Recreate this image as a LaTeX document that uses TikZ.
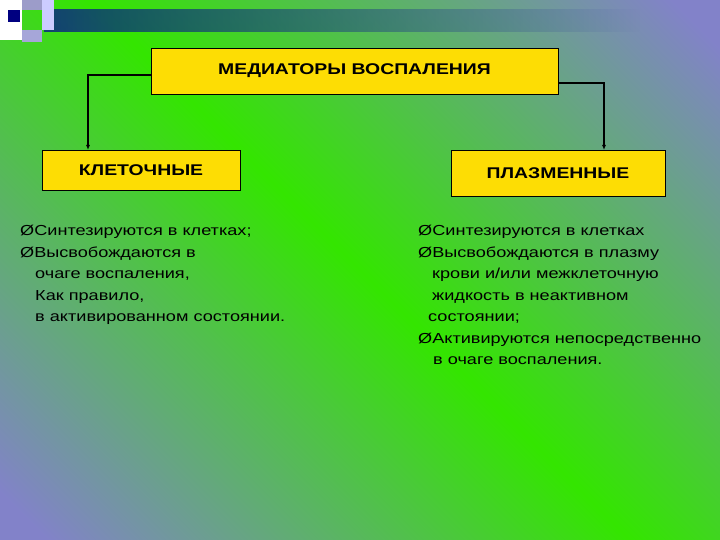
\documentclass[tikz,border=0pt]{standalone}
\usepackage{fontspec}
\setmainfont{Liberation Sans}
\newfontfamily\widefont[FakeStretch=1.25]{Liberation Sans}
\usetikzlibrary{arrows.meta,fadings}
\begin{document}
\begin{tikzpicture}[x=1pt,y=-1pt,
  box/.style={draw=black,fill=yellow!80!orange,line width=0.6pt,inner sep=0pt,font=\widefont\bfseries\fontsize{15.5}{18}\selectfont},
  conn/.style={line width=1.2pt,-{Latex[length=5pt,width=4pt]}},
  txt/.style={anchor=north west,align=left,inner sep=0pt,font=\widefont\fontsize{14.5}{21.5}\selectfont}]
\useasboundingbox (0,0) rectangle (720,540);
\shade[left color=gray!60!blue!70!white,right color=gray!60!blue!70!white,middle color=green!70!lime!90!black,shading angle=-45] (-100,-100) rectangle (820,640);
\shade[left color=blue!60!black,right color=blue!60!black,path fading=east,opacity=0.7] (44,10) rectangle (640,32);
\fill[white] (0,0) rectangle (22,40);
\fill[blue!50!black] (8,10) rectangle (20,22);
\fill[gray!70!blue!60!white] (22,0) rectangle (42,10);
\fill[white!80!blue] (42,0) rectangle (54,30);
\fill[gray!60!blue!50!white] (22,30) rectangle (42,42);
\node[box,minimum width=407pt,minimum height=46pt] (top) at (354.5,71) {МЕДИАТОРЫ ВОСПАЛЕНИЯ};
\node[box,minimum width=198pt,minimum height=40pt] (kl) at (141,170) {КЛЕТОЧНЫЕ};
\node[box,minimum width=214pt,minimum height=46pt] (pl) at (558,173) {ПЛАЗМЕННЫЕ};
\draw[conn] (top.west |- 0,75) -| (88,150);
\draw[conn] (top.east |- 0,83) -| (604,150);
\node[txt] (lt) at (20,225) {ØСинтезируются в клетках;\\ØВысвобождаются в\\\hspace{15pt}очаге воспаления,\\\hspace{15pt}Как правило,\\\hspace{15pt}в активированном состоянии.};
\node[txt] (rt) at (418,225) {ØСинтезируются в клетках\\ØВысвобождаются в плазму\\\hspace{14pt}крови и/или межклеточную\\\hspace{14pt}жидкость в неактивном\\\hspace{10pt}состоянии;\\ØАктивируются непосредственно\\\hspace{15pt}в очаге воспаления.};
\end{tikzpicture}
\end{document}
